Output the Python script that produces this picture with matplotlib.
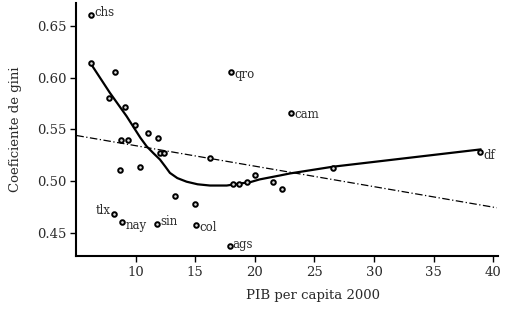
"""Gini coefficient vs GDP per capita 2000, Mexican states, with lowess and linear fit."""
import matplotlib

matplotlib.use("Agg")
import matplotlib.pyplot as plt

# state points (x = PIB per capita 2000, y = gini)
pib = [6.30, 6.25, 8.26, 7.78, 9.10, 9.94, 11.06, 11.90, 8.74, 9.33,
       8.68, 10.36, 12.04, 12.38, 16.24, 13.30, 14.98, 8.20, 8.90, 11.80,
       15.10, 17.90, 18.20, 18.70, 19.33, 20.03, 21.57, 23.05, 22.30, 26.55,
       38.93, 18.00]
gini = [0.661, 0.614, 0.6055, 0.580, 0.572, 0.554, 0.547, 0.5415, 0.540, 0.540,
        0.511, 0.514, 0.5275, 0.5275, 0.5226, 0.486, 0.478, 0.4685, 0.4604, 0.4589,
        0.4572, 0.4378, 0.4968, 0.4968, 0.499, 0.5058, 0.4994, 0.5661, 0.492, 0.5123,
        0.528, 0.6054]

# labelled states: name, x, y, side
lab_names = ["chs", "qro", "cam", "df", "tlx", "nay", "sin", "col", "ags"]
lab_x = [6.30, 18.00, 23.05, 38.93, 8.20, 8.90, 11.80, 15.10, 17.90]
lab_y = [0.661, 0.6054, 0.5661, 0.528, 0.4685, 0.4604, 0.4589, 0.4572, 0.4378]
lab_dy = [2, -2, -2, -3, 3, -3, 2, -2, 1]  # px offset of text centre
lab_left = [False, False, False, False, True, False, False, False, False]

# lowess curve
low_x = [6.25, 7.84, 9.24, 10.4, 10.92, 11.5, 12.04, 12.5, 12.88, 13.5, 14.28,
         15.2, 16.24, 17.65, 18.76, 19.6, 20.4, 22.1, 22.96, 26.55, 38.93]
low_y = [0.6135, 0.5855, 0.5629, 0.542, 0.5338, 0.527, 0.521, 0.514, 0.508, 0.503, 0.4995,
         0.497, 0.4958, 0.4958, 0.4978, 0.499, 0.5017, 0.5055, 0.5075, 0.514, 0.5307]

# linear fit end points
lin_x = [5.03, 40.3]
lin_y = [0.5442, 0.4743]

plt.rcParams["font.family"] = ["DejaVu Serif"]
TXT = "#2a2a2a"

fig = plt.figure(figsize=(5.05, 3.12), dpi=100)
ax = fig.add_axes([0.1505, 0.179, 0.8355, 0.811])

ax.plot(lin_x, lin_y, color="black", lw=0.9, dashes=(6, 2, 1, 2))
ax.plot(low_x, low_y, color="black", lw=1.6)
ax.plot(pib, gini, "o", ms=3.3, mfc="#dddddd", mec="black", mew=1.4, ls="none")

px = 72 / 100  # points per pixel
for name, x, y, dy, left in zip(lab_names, lab_x, lab_y, lab_dy, lab_left):
    ax.annotate(name, (x, y), xytext=((-3 if left else 3) * px, dy * px),
                textcoords="offset points", ha="right" if left else "left",
                va="center", fontsize=8.5, color=TXT)

ax.set_xlim(5.0, 40.4)
ax.set_ylim(0.4275, 0.6722)
ax.set_xticks([10, 15, 20, 25, 30, 35, 40])
ax.set_yticks([0.45, 0.50, 0.55, 0.60, 0.65])
ax.set_yticklabels(["0.45", "0.50", "0.55", "0.60", "0.65"])
ax.spines["top"].set_visible(False)
ax.spines["right"].set_visible(False)
for s in ("left", "bottom"):
    ax.spines[s].set_linewidth(1.5)
ax.tick_params(direction="out", length=4, width=1, labelsize=9.5,
               labelcolor=TXT, pad=3)
ax.set_xlabel("PIB per capita 2000", fontsize=9.5, color=TXT)
ax.set_ylabel("Coeficiente de gini", fontsize=9.5, color=TXT)
ax.xaxis.set_label_coords(0.562, -0.13)
ax.yaxis.set_label_coords(-0.128, 0.5)

fig.savefig("out.png", dpi=100)
